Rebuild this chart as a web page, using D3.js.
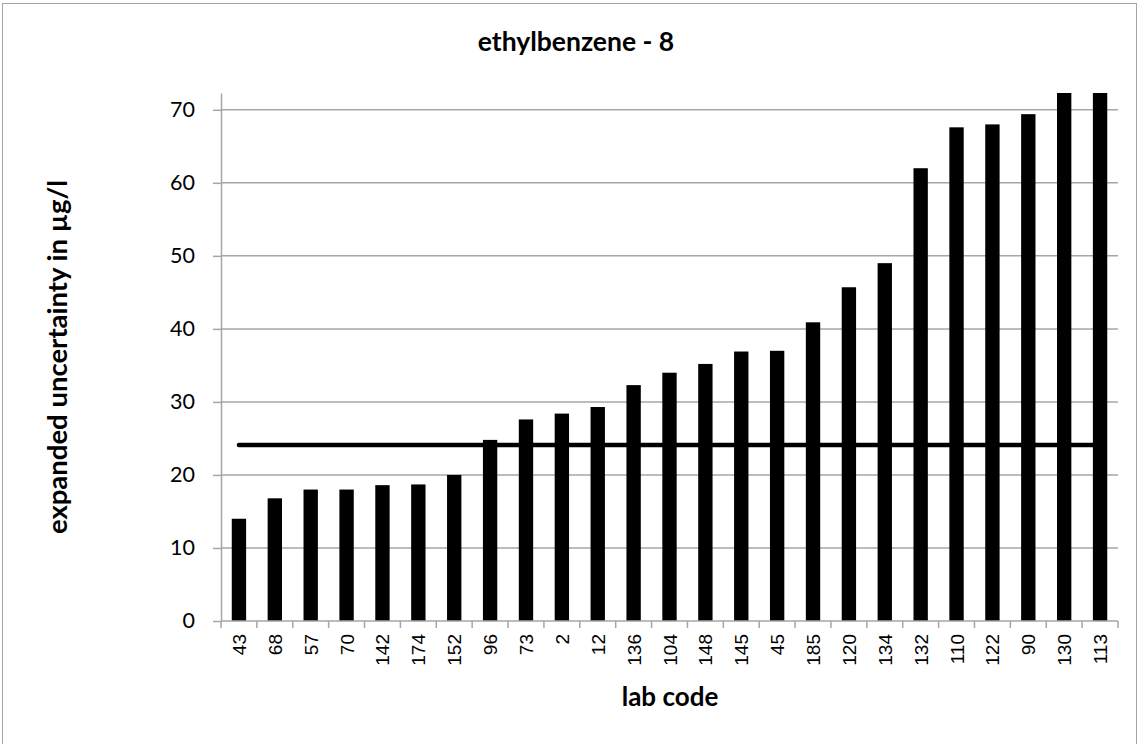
<!DOCTYPE html>
<html>
<head>
<meta charset="utf-8">
<script src="https://cdn.jsdelivr.net/npm/d3@7"></script>
<style>
  html, body { margin: 0; padding: 0; background: #fff; }
  svg { display: block; }
</style>
</head>
<body>
<svg id="chart" width="1139" height="744"></svg>
<script>
// Lab codes, ordered by increasing expanded uncertainty
const labCodes = ["43","68","57","70","142","174","152","96","73","2","12","136","104","148","145","45","185","120","134","132","110","122","90","130","113"];
// Expanded uncertainty per lab (µg/l)
const uncertainties = [14.0,16.8,18.0,18.0,18.6,18.7,20.0,24.8,27.6,28.4,29.3,32.3,34.0,35.2,36.9,37.0,40.9,45.7,49.0,62.0,67.6,68.0,69.4,76.0,79.0];
// Reference level drawn across all labs
const referenceLevel = 24.1;
const yTicks = [0,10,20,30,40,50,60,70];
const yMax = 72.3;

const W = 1139, H = 744;
const plot = { left: 221, right: 1118, top: 93, bottom: 621 };

const svg = d3.select("#chart");

// chart border
svg.append("rect")
  .attr("x", 2.5).attr("y", 3.5)
  .attr("width", W - 5).attr("height", H)
  .attr("fill", "none").attr("stroke", "#a6a6a6").attr("stroke-width", 1);

const xStep = d3.scaleBand().domain(labCodes).range([plot.left, plot.right]);
const y = d3.scaleLinear().domain([0, yMax]).range([plot.bottom, plot.top]);
const barWidth = xStep.bandwidth() * 0.4;

// horizontal gridlines
svg.append("g")
  .selectAll("line")
  .data(yTicks.filter(t => t > 0))
  .join("line")
  .attr("x1", plot.left).attr("x2", plot.right)
  .attr("y1", d => y(d)).attr("y2", d => y(d))
  .attr("stroke", "#a6a6a6").attr("stroke-width", 1.5);

// y axis
const yAxis = svg.append("g")
  .attr("transform", `translate(${plot.left},0)`)
  .call(d3.axisLeft(y).tickValues(yTicks).tickSize(8).tickPadding(18).tickSizeOuter(0));
yAxis.select(".domain").attr("stroke", "#a6a6a6").attr("stroke-width", 1.5);
yAxis.selectAll(".tick line").attr("stroke", "#a6a6a6").attr("stroke-width", 1.5);
yAxis.selectAll(".tick text")
  .attr("font-family", "Lato, 'Open Sans', sans-serif")
  .attr("font-size", 21.5).attr("fill", "#000");

// bars, clipped to the plotting area
svg.append("clipPath").attr("id", "plotClip")
  .append("rect")
  .attr("x", plot.left).attr("y", plot.top)
  .attr("width", plot.right - plot.left).attr("height", plot.bottom - plot.top);

svg.append("g")
  .attr("clip-path", "url(#plotClip)")
  .selectAll("rect")
  .data(labCodes.map((c, i) => ({ code: c, value: uncertainties[i] })))
  .join("rect")
  .attr("x", d => xStep(d.code) + (xStep.bandwidth() - barWidth) / 2)
  .attr("width", barWidth)
  .attr("y", d => y(d.value))
  .attr("height", d => y(0) - y(d.value))
  .attr("fill", "#000");

// x axis with ticks between categories
const xAxisG = svg.append("g");
xAxisG.append("line")
  .attr("x1", plot.left).attr("x2", plot.right)
  .attr("y1", y(0)).attr("y2", y(0))
  .attr("stroke", "#a6a6a6").attr("stroke-width", 1.5);
const boundaries = labCodes.map(c => xStep(c)).concat([plot.right]);
xAxisG.selectAll("line.tick")
  .data(boundaries)
  .join("line")
  .attr("class", "tick")
  .attr("x1", d => d).attr("x2", d => d)
  .attr("y1", y(0)).attr("y2", y(0) + 7)
  .attr("stroke", "#a6a6a6").attr("stroke-width", 1.5);
xAxisG.selectAll("text")
  .data(labCodes)
  .join("text")
  .attr("transform", d => `translate(${xStep(d) + xStep.bandwidth() / 2 + 7},${y(0) + 13}) rotate(-90)`)
  .attr("text-anchor", "end")
  .attr("font-family", "'Liberation Sans', Arial, sans-serif")
  .attr("font-size", 19)
  .attr("fill", "#000")
  .text(d => d);

// reference line
const first = labCodes[0], last = labCodes[labCodes.length - 1];
svg.append("line")
  .attr("x1", xStep(first) + xStep.bandwidth() / 2)
  .attr("x2", xStep(last) + xStep.bandwidth() / 2)
  .attr("y1", y(referenceLevel)).attr("y2", y(referenceLevel))
  .attr("stroke", "#000").attr("stroke-width", 4.5)
  .attr("stroke-linecap", "round");

// title and axis labels
svg.append("text")
  .attr("x", 576).attr("y", 51)
  .attr("text-anchor", "middle")
  .attr("font-family", "Lato, 'Open Sans', sans-serif")
  .attr("font-weight", "bold").attr("font-size", 26.5)
  .text("ethylbenzene - 8");

svg.append("text")
  .attr("transform", `translate(67,357) rotate(-90)`)
  .attr("text-anchor", "middle")
  .attr("font-family", "Lato, 'Open Sans', sans-serif")
  .attr("font-weight", "bold").attr("font-size", 27.5)
  .text("expanded uncertainty in µg/l");

svg.append("text")
  .attr("x", 670).attr("y", 706)
  .attr("text-anchor", "middle")
  .attr("font-family", "Lato, 'Open Sans', sans-serif")
  .attr("font-weight", "bold").attr("font-size", 26)
  .text("lab code");
</script>
</body>
</html>
